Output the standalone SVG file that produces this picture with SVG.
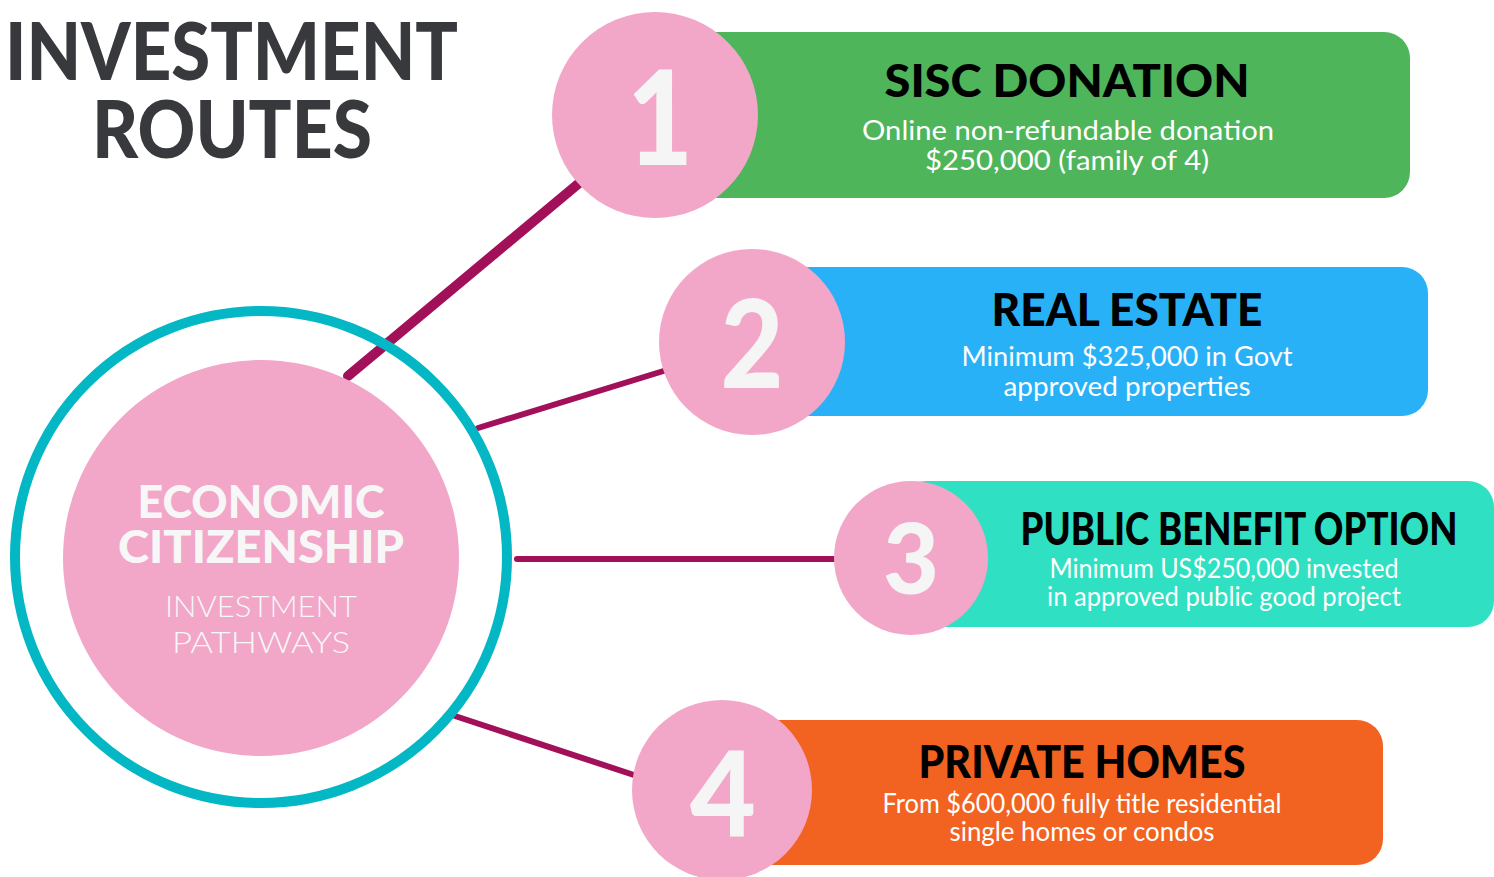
<svg xmlns="http://www.w3.org/2000/svg" width="1494" height="877" viewBox="0 0 1494 877">
<style>
.title{font-family:Lato,"Liberation Sans",sans-serif;font-weight:900;fill:#38393d;font-size:80px}
.ctr{font-family:Lato,"Liberation Sans",sans-serif;fill:#f7f7f7;text-anchor:middle}
.ctrb{font-weight:900;font-size:45px}
.ctrl{font-weight:300;font-size:30px}
.num{font-family:Lato,"Liberation Sans",sans-serif;font-weight:900;fill:#f5f5f5;text-anchor:middle}
.head{font-family:Lato,"Liberation Sans",sans-serif;font-weight:900;fill:#000;text-anchor:middle;font-size:46px}
.sub{font-family:Lato,"Liberation Sans",sans-serif;font-weight:400;fill:#fff;text-anchor:middle;font-size:26px}
.pink{fill:#f2a7c9}
.conn{stroke:#a3105a;fill:none;stroke-linecap:round}
</style>
<rect width="1494" height="877" fill="#fff"/>
<g id="title">
<text class="title" x="5" y="80" textLength="453" lengthAdjust="spacingAndGlyphs">INVESTMENT</text>
<text class="title" x="92" y="158" textLength="280" lengthAdjust="spacingAndGlyphs">ROUTES</text>
</g>
<g id="connectors">
<line class="conn" x1="348" y1="376" x2="590" y2="174" stroke-width="10"/>
<line class="conn" x1="478" y1="428" x2="670" y2="369" stroke-width="6"/>
<line class="conn" x1="517" y1="559" x2="840" y2="559" stroke-width="6"/>
<line class="conn" x1="455" y1="716" x2="640" y2="777" stroke-width="6"/>
</g>
<g id="center">
<circle cx="261" cy="557" r="246" fill="none" stroke="#03b8c4" stroke-width="10"/>
<circle cx="261" cy="558" r="198" class="pink"/>
<text class="ctr ctrb" x="261" y="518" textLength="247" lengthAdjust="spacingAndGlyphs">ECONOMIC</text>
<text class="ctr ctrb" x="261" y="563" textLength="286" lengthAdjust="spacingAndGlyphs">CITIZENSHIP</text>
<text class="ctr ctrl" x="261" y="617" textLength="192" lengthAdjust="spacingAndGlyphs">INVESTMENT</text>
<text class="ctr ctrl" x="261" y="653" textLength="178" lengthAdjust="spacingAndGlyphs">PATHWAYS</text>
</g>
<g id="route1">
<rect x="640" y="32" width="770" height="166" rx="26" fill="#4eb55a"/>
<circle cx="655" cy="115" r="103" class="pink"/>
<text class="num" x="660" y="165" font-size="132" textLength="66" lengthAdjust="spacingAndGlyphs">1</text>
<text class="head" x="1067" y="97" textLength="365" lengthAdjust="spacingAndGlyphs">SISC DONATION</text>
<text class="sub" x="1068" y="140" textLength="412" lengthAdjust="spacingAndGlyphs">Online non-refundable donation</text>
<text class="sub" x="1067" y="170" textLength="284" lengthAdjust="spacingAndGlyphs">$250,000 (family of 4)</text>
</g>
<g id="route2">
<rect x="740" y="267" width="688" height="149" rx="26" fill="#29b1f8"/>
<circle cx="752" cy="342" r="93" class="pink"/>
<text class="num" x="752" y="388" font-size="122" textLength="63" lengthAdjust="spacingAndGlyphs">2</text>
<text class="head" x="1127" y="326" textLength="271" lengthAdjust="spacingAndGlyphs">REAL ESTATE</text>
<text class="sub" x="1127" y="366" textLength="331" lengthAdjust="spacingAndGlyphs">Minimum $325,000 in Govt</text>
<text class="sub" x="1127" y="396" textLength="247" lengthAdjust="spacingAndGlyphs">approved properties</text>
</g>
<g id="route3">
<rect x="900" y="481" width="594" height="146" rx="26" fill="#30e0c2"/>
<circle cx="911" cy="558" r="77" class="pink"/>
<text class="num" x="911" y="594" font-size="98" textLength="56" lengthAdjust="spacingAndGlyphs">3</text>
<text class="head" x="1239" y="545" font-size="40" textLength="437" lengthAdjust="spacingAndGlyphs">PUBLIC BENEFIT OPTION</text>
<text class="sub" x="1224" y="578" font-size="24" textLength="349" lengthAdjust="spacingAndGlyphs">Minimum US$250,000 invested</text>
<text class="sub" x="1224" y="606" font-size="24" textLength="354" lengthAdjust="spacingAndGlyphs">in approved public good project</text>
</g>
<g id="route4">
<rect x="700" y="720" width="683" height="145" rx="26" fill="#f26322"/>
<circle cx="722" cy="790" r="90" class="pink"/>
<text class="num" x="723" y="836" font-size="118" textLength="66" lengthAdjust="spacingAndGlyphs">4</text>
<text class="head" x="1082" y="778" font-size="42" textLength="327" lengthAdjust="spacingAndGlyphs">PRIVATE HOMES</text>
<text class="sub" x="1082" y="813" font-size="25" textLength="399" lengthAdjust="spacingAndGlyphs">From $600,000 fully title residential</text>
<text class="sub" x="1082" y="841" font-size="25" textLength="265" lengthAdjust="spacingAndGlyphs">single homes or condos</text>
</g>
</svg>
